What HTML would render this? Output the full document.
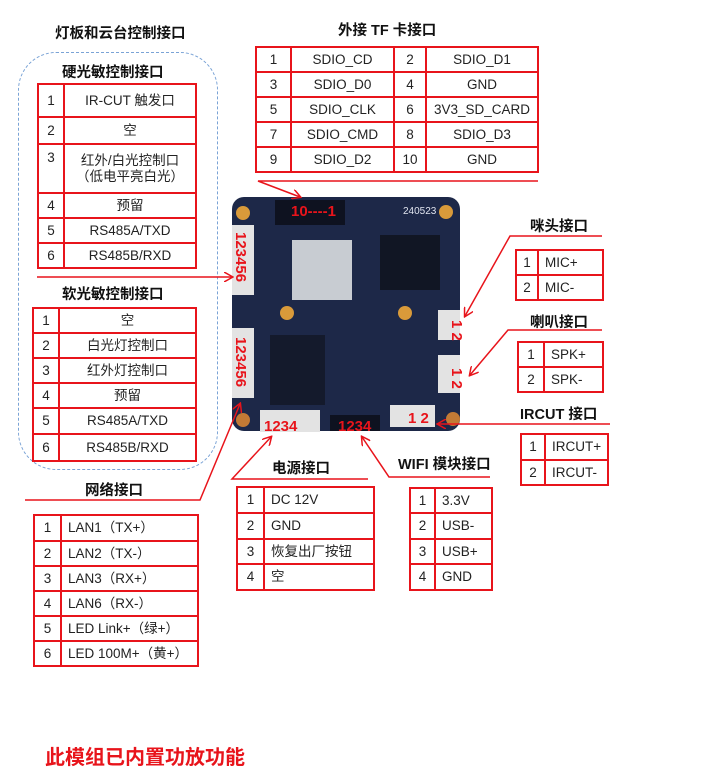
<!DOCTYPE html>
<html><head><meta charset="utf-8"><style>
body{margin:0;width:706px;height:784px;background:#fff;position:relative;overflow:hidden;font-family:"Liberation Sans","Noto Sans CJK SC",sans-serif;}
.t{position:absolute;border-collapse:collapse;font-size:13.5px;color:#222;table-layout:fixed;}
.t td{border:2px solid #e8141b;padding:0 0 0 6px;box-sizing:border-box;line-height:16px;vertical-align:middle;}
.t td:first-child{text-align:center;padding:0;}
.c td{text-align:center;padding:0;}
.h{position:absolute;font-weight:bold;font-size:14.5px;color:#111;white-space:nowrap;}
svg{position:absolute;left:0;top:0;}
</style></head><body>
<div class="h" style="left:55px;top:22px">灯板和云台控制接口</div>
<div style="position:absolute;left:18px;top:52px;width:200px;height:418px;border:1.5px dashed #7aa3d6;border-radius:38px;box-sizing:border-box"></div>
<div class="h" style="left:62px;top:61px">硬光敏控制接口</div>
<table class="t c" style="left:37px;top:83px;width:160px">
<tr style="height:33px"><td style="width:26px">1</td><td>IR-CUT 触发口</td></tr>
<tr style="height:27px"><td>2</td><td>空</td></tr>
<tr style="height:49px"><td style="vertical-align:top;padding-top:5px">3</td><td>红外/白光控制口<br>（低电平亮白光）</td></tr>
<tr style="height:25px"><td>4</td><td>预留</td></tr>
<tr style="height:25px"><td>5</td><td>RS485A/TXD</td></tr>
<tr style="height:25px"><td>6</td><td>RS485B/RXD</td></tr></table>
<div class="h" style="left:62px;top:283px">软光敏控制接口</div>
<table class="t c" style="left:32px;top:307px;width:165px">
<tr style="height:25px"><td style="width:26px">1</td><td>空</td></tr>
<tr style="height:25px"><td>2</td><td>白光灯控制口</td></tr>
<tr style="height:25px"><td>3</td><td>红外灯控制口</td></tr>
<tr style="height:25px"><td>4</td><td>预留</td></tr>
<tr style="height:26px"><td>5</td><td>RS485A/TXD</td></tr>
<tr style="height:27px"><td>6</td><td>RS485B/RXD</td></tr></table>
<div class="h" style="left:85px;top:479px">网络接口</div>
<table class="t" style="left:33px;top:514px;width:166px">
<tr style="height:26px"><td style="width:27px">1</td><td>LAN1（TX+）</td></tr>
<tr style="height:25px"><td>2</td><td>LAN2（TX-）</td></tr>
<tr style="height:25px"><td>3</td><td>LAN3（RX+）</td></tr>
<tr style="height:25px"><td>4</td><td>LAN6（RX-）</td></tr>
<tr style="height:25px"><td>5</td><td>LED Link+（绿+）</td></tr>
<tr style="height:25px"><td>6</td><td>LED 100M+（黄+）</td></tr></table>
<div class="h" style="left:338px;top:19px">外接 TF 卡接口</div>
<table class="t c" style="left:255px;top:46px;width:284px">
<tr style="height:25px"><td style="width:35px">1</td><td style="width:103px">SDIO_CD</td><td style="width:32px">2</td><td>SDIO_D1</td></tr>
<tr style="height:25px"><td>3</td><td>SDIO_D0</td><td>4</td><td>GND</td></tr>
<tr style="height:25px"><td>5</td><td>SDIO_CLK</td><td>6</td><td>3V3_SD_CARD</td></tr>
<tr style="height:25px"><td>7</td><td>SDIO_CMD</td><td>8</td><td>SDIO_D3</td></tr>
<tr style="height:25px"><td>9</td><td>SDIO_D2</td><td>10</td><td>GND</td></tr></table>
<div class="h" style="left:530px;top:215px">咪头接口</div>
<table class="t" style="left:515px;top:249px;width:89px">
<tr style="height:25px"><td style="width:22px">1</td><td>MIC+</td></tr>
<tr style="height:25px"><td>2</td><td>MIC-</td></tr></table>
<div class="h" style="left:530px;top:311px">喇叭接口</div>
<table class="t" style="left:517px;top:341px;width:87px">
<tr style="height:25px"><td style="width:26px">1</td><td>SPK+</td></tr>
<tr style="height:25px"><td>2</td><td>SPK-</td></tr></table>
<div class="h" style="left:520px;top:403px">IRCUT 接口</div>
<table class="t" style="left:520px;top:433px;width:89px">
<tr style="height:26px"><td style="width:24px">1</td><td>IRCUT+</td></tr>
<tr style="height:25px"><td>2</td><td>IRCUT-</td></tr></table>
<div class="h" style="left:272px;top:457px">电源接口</div>
<table class="t" style="left:236px;top:486px;width:139px">
<tr style="height:26px"><td style="width:27px">1</td><td>DC 12V</td></tr>
<tr style="height:26px"><td>2</td><td>GND</td></tr>
<tr style="height:25px"><td>3</td><td>恢复出厂按钮</td></tr>
<tr style="height:26px"><td>4</td><td>空</td></tr></table>
<div class="h" style="left:398px;top:453px">WIFI 模块接口</div>
<table class="t" style="left:409px;top:487px;width:84px">
<tr style="height:25px"><td style="width:25px">1</td><td>3.3V</td></tr>
<tr style="height:26px"><td>2</td><td>USB-</td></tr>
<tr style="height:25px"><td>3</td><td>USB+</td></tr>
<tr style="height:26px"><td>4</td><td>GND</td></tr></table>
<div style="position:absolute;left:45px;top:741px;color:#e8141b;font-weight:bold;font-size:20px">此模组已内置功放功能</div>
<svg width="706" height="784">
<defs><marker id="a" markerWidth="10" markerHeight="10" refX="8" refY="5" orient="auto" markerUnits="userSpaceOnUse"><path d="M0,0 L9,5 L0,10" fill="none" stroke="#e8141b" stroke-width="1.5"/></marker></defs>
<rect x="232" y="197" width="228" height="234" rx="12" fill="#1d2848"/>
<rect x="292" y="240" width="60" height="60" fill="#c8ccd2"/>
<rect x="380" y="235" width="60" height="55" fill="#111624"/>
<rect x="275" y="200" width="70" height="25" fill="#0e1220"/>
<rect x="232" y="225" width="22" height="70" fill="#e3e3e3"/>
<rect x="232" y="328" width="22" height="70" fill="#e3e3e3"/>
<rect x="260" y="410" width="60" height="22" fill="#e3e3e3"/>
<rect x="330" y="415" width="50" height="16" fill="#0e1220"/>
<rect x="390" y="405" width="45" height="22" fill="#e3e3e3"/>
<rect x="438" y="310" width="22" height="30" fill="#e3e3e3"/>
<rect x="438" y="355" width="22" height="38" fill="#e3e3e3"/>
<rect x="270" y="335" width="55" height="70" fill="#141a2c"/>
<circle cx="243" cy="213" r="7" fill="#d99a3a"/><circle cx="446" cy="212" r="7" fill="#d99a3a"/>
<circle cx="287" cy="313" r="7" fill="#d99a3a"/><circle cx="405" cy="313" r="7" fill="#d99a3a"/>
<circle cx="243" cy="420" r="7" fill="#c27a35"/><circle cx="453" cy="419" r="7" fill="#c27a35"/>
<text x="403" y="214" fill="#dfe3ee" font-size="10" font-family="Liberation Sans">240523</text>
<g fill="#e8141b" font-weight="bold" font-family="Liberation Sans" font-size="15">
<text x="291" y="216">10----1</text>
<text x="264" y="431">1234</text><text x="338" y="431">1234</text>
<text x="408" y="423">1 2</text>
<text transform="translate(236,232) rotate(90)">123456</text>
<text transform="translate(236,337) rotate(90)">123456</text>
<text transform="translate(452,320) rotate(90)">1 2</text>
<text transform="translate(452,368) rotate(90)">1 2</text></g>
<g stroke="#e8141b" stroke-width="1.5" fill="none">
<polyline points="538,181 258,181 300,197" marker-end="url(#a)"/>
<line x1="37" y1="277" x2="232" y2="277" marker-end="url(#a)"/>
<polyline points="25,500 200,500 240,404" marker-end="url(#a)"/>
<polyline points="602,236 510,236 465,316" marker-end="url(#a)"/>
<polyline points="602,330 508,330 470,375" marker-end="url(#a)"/>
<line x1="610" y1="424" x2="438" y2="424" marker-end="url(#a)"/>
<polyline points="368,479 232,479 271,437" marker-end="url(#a)"/>
<polyline points="490,477 389,477 362,437" marker-end="url(#a)"/>
</g></svg>
</body></html>
